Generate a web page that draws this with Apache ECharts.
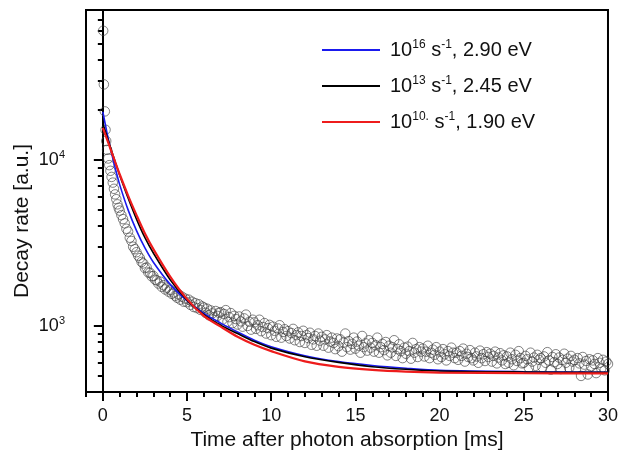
<!DOCTYPE html>
<html>
<head>
<meta charset="utf-8">
<title>Decay rate</title>
<script src="https://cdn.jsdelivr.net/npm/echarts@6/dist/echarts.min.js"></script>
<style>
  html, body { margin: 0; padding: 0; background: #fff; }
  #chart { width: 621px; height: 456px; }
</style>
</head>
<body>
<div id="chart"></div>
<script>
  // measured decay: first ms is irregular, then one point every 0.1 ms
  var decayEarlyT = [0.02, 0.06, 0.12, 0.16, 0.2, 0.25, 0.32, 0.38, 0.45, 0.52, 0.59, 0.66, 0.73, 0.8, 0.87, 0.94];
  var decayEarlyY = [60000, 28500, 19600, 15200, 13000, 11500, 10200, 9300, 8600, 7900, 7300, 6700, 6200, 5800, 5400, 5150];
  var decayT0 = 1.0;
  var decayStep = 0.1;
  var decayY = [
    4950, 4650, 4400, 4150, 3850, 3700, 3400, 3250, 3000, 2900,
    2780, 2650, 2560, 2430, 2380, 2230, 2250, 2100, 2090, 1990,
    2000, 1900, 1880, 1800, 1850, 1720, 1760, 1660, 1700, 1610,
    1650, 1560, 1590, 1520, 1480, 1550, 1440, 1500, 1400, 1460,
    1390, 1440, 1340, 1400, 1300, 1370, 1280, 1350, 1250, 1310,
    1290, 1200, 1270, 1160, 1240, 1190, 1130, 1230, 1150, 1200,
    1210, 1090, 1180, 1245, 1060, 1130, 1195, 1040, 1150, 1100,
    1020, 1140, 1065, 990, 1110, 1170, 1000, 1060, 950, 1090,
    1050, 960, 1010, 1090, 930, 985, 1040, 900, 970, 1015,
    880, 990, 935, 860, 965, 1010, 850, 920, 955, 870,
    930, 840, 905, 960, 820, 880, 915, 800, 870, 935,
    790, 880, 845, 910, 770, 830, 870, 760, 900, 815,
    860, 760, 830, 880, 740, 805, 850, 790, 725, 840,
    755, 830, 700, 795, 900, 745, 810, 720, 780, 850,
    730, 805, 760, 690, 870, 745, 785, 710, 820, 740,
    790, 700, 765, 850, 690, 745, 780, 715, 800, 665,
    760, 690, 745, 820, 660, 725, 775, 705, 640, 740,
    680, 750, 705, 635, 790, 690, 725, 650, 745, 700,
    730, 655, 700, 760, 640, 690, 720, 670, 745, 630,
    700, 650, 725, 675, 620, 705, 660, 740, 690, 640,
    690, 625, 705, 660, 730, 610, 680, 650, 715, 640,
    620, 690, 655, 600, 710, 640, 675, 615, 695, 650,
    680, 610, 660, 700, 595, 645, 685, 620, 665, 590,
    655, 600, 690, 630, 580, 670, 615, 705, 640, 595,
    600, 660, 630, 560, 690, 610, 645, 575, 670, 625,
    640, 565, 655, 600, 695, 620, 545, 650, 605, 675,
    590, 645, 550, 625, 680, 600, 635, 560, 660, 610,
    625, 550, 640, 595, 500, 650, 585, 615, 510, 630,
    570, 620, 590, 520, 640, 600, 555, 625, 540, 610,
    590
  ];

  // model curves
  var fitT     = [0, 0.25, 0.5, 0.75, 1, 1.5, 2, 2.5, 3, 4, 5, 6, 7, 8, 9, 10, 12, 14, 16, 18, 20, 25, 30];
  var fitBlue  = [19500, 14500, 11200, 8800, 7100, 5000, 3750, 2950, 2420, 1780, 1420, 1190, 1040, 920, 820, 750, 662, 610, 578, 556, 540, 530, 526];
  var fitBlack = [16600, 13800, 11500, 9600, 8100, 5900, 4400, 3400, 2750, 1900, 1430, 1170, 1010, 900, 805, 735, 652, 603, 568, 548, 535, 528, 525];
  var fitRed   = [15600, 13300, 11300, 9600, 8200, 6100, 4650, 3600, 2900, 1980, 1450, 1150, 990, 860, 770, 705, 612, 567, 543, 530, 524, 519, 518];

  var fitRates    = ['16', '13', '10.'];
  var fitEnergies = ['2.90', '2.45', '1.90'];
  var fitColors   = ['#1a1aee', '#000000', '#ee1c1c'];

  var xMajor = [0, 5, 10, 15, 20, 25, 30];
  var yMajor = [1000, 10000];
  var yMinor = [400, 500, 600, 700, 800, 900, 2000, 3000, 4000, 5000, 6000, 7000, 8000, 9000,
                20000, 30000, 40000, 50000, 60000, 70000];

  var font = 'Liberation Sans, Arial, sans-serif';

  var decayPts = [];
  for (var i = 0; i < decayEarlyT.length; i++) decayPts.push([decayEarlyT[i], decayEarlyY[i]]);
  for (var j = 0; j < decayY.length; j++) decayPts.push([+(decayT0 + j * decayStep).toFixed(2), decayY[j]]);

  function fitPts(arr) {
    var out = [];
    for (var k = 0; k < fitT.length; k++) out.push([fitT[k], arr[k]]);
    return out;
  }

  var fitNames = ['blue', 'black', 'red'];
  var fitData  = [fitBlue, fitBlack, fitRed];

  var series = [{
    type: 'scatter',
    name: 'data',
    data: decayPts,
    symbol: 'circle',
    symbolSize: 9.5,
    itemStyle: { color: 'rgba(0,0,0,0)', borderColor: '#3a3a3a', borderWidth: 0.8 },
    xAxisIndex: 0, yAxisIndex: 0,
    z: 2
  }];
  for (var s = 0; s < 3; s++) {
    series.push({
      type: 'line',
      name: fitNames[s],
      data: fitPts(fitData[s]),
      smooth: 0.3,
      symbol: 'none',
      lineStyle: { color: fitColors[s], width: s === 2 ? 2.2 : 1.6 },
      itemStyle: { color: fitColors[s] },
      xAxisIndex: 0, yAxisIndex: 0,
      z: 3 + s
    });
  }

  var chart = echarts.init(document.getElementById('chart'));
  var option = {
    animation: false,
    backgroundColor: '#fff',
    grid: { left: 86, right: 9, top: 10, bottom: 62, show: true, borderColor: '#000', borderWidth: 2, backgroundColor: 'transparent' },
    legend: {
      data: fitNames.map(function (n) { return { name: n, icon: 'rect' }; }),
      orient: 'vertical',
      left: 317,
      top: 34,
      itemWidth: 58,
      itemHeight: 2,
      itemGap: 15,
      textStyle: {
        color: '#111',
        padding: [0, 0, 0, 5],
        rich: {
          t: { fontSize: 20, fontFamily: font, color: '#111', lineHeight: 22 },
          s: { fontSize: 12, fontFamily: font, color: '#111', lineHeight: 12, verticalAlign: 'top' }
        }
      },
      formatter: function (name) {
        var k = fitNames.indexOf(name);
        return '{t|10}{s|' + fitRates[k] + '}{t| s}{s|-1}{t|, ' + fitEnergies[k] + ' eV}';
      }
    },
    graphic: [{
      type: 'text',
      x: 22,
      y: 221,
      rotation: Math.PI / 2,
      style: {
        text: 'Decay rate [a.u.]',
        fontSize: 21,
        fontFamily: font,
        fill: '#111',
        align: 'center',
        verticalAlign: 'middle'
      }
    }],
    xAxis: [{
      type: 'value',
      min: -1, max: 30,
      name: 'Time after photon absorption [ms]',
      nameLocation: 'middle',
      nameGap: 38,
      nameTextStyle: { fontSize: 21, fontFamily: font, color: '#111' },
      axisLine: { show: true, lineStyle: { color: '#000', width: 2 } },
      axisTick: { show: true, length: 9, lineStyle: { color: '#000', width: 2 }, customValues: xMajor },
      axisLabel: { fontSize: 18, fontFamily: font, color: '#111', margin: 15, customValues: xMajor },
      splitLine: { show: false }
    }, {
      type: 'value',
      min: -1, max: 30, interval: 1,
      position: 'bottom',
      axisLine: { show: false },
      axisTick: { show: true, length: 5, lineStyle: { color: '#000', width: 2 } },
      axisLabel: { show: false },
      splitLine: { show: false }
    }],
    yAxis: [{
      type: 'log',
      logBase: 10,
      min: 400, max: 80000,
      axisLine: { show: true, lineStyle: { color: '#000', width: 2 } },
      axisTick: { show: true, length: 9, lineStyle: { color: '#000', width: 2 }, customValues: yMajor },
      axisLabel: {
        margin: 21,
        customValues: yMajor,
        formatter: function (v) { return '{b|10}{e|' + Math.round(Math.log10(v)) + '}'; },
        rich: {
          b: { fontSize: 18, fontFamily: font, color: '#111', lineHeight: 20 },
          e: { fontSize: 11, fontFamily: font, color: '#111', lineHeight: 11, verticalAlign: 'top' }
        }
      },
      splitLine: { show: false }
    }, {
      type: 'log',
      logBase: 10,
      min: 400, max: 80000,
      position: 'left',
      axisLine: { show: false },
      axisTick: { show: true, length: 5, lineStyle: { color: '#000', width: 2 }, customValues: yMinor },
      axisLabel: { show: false },
      splitLine: { show: false }
    }],
    series: series
  };
  chart.setOption(option);
</script>
</body>
</html>
